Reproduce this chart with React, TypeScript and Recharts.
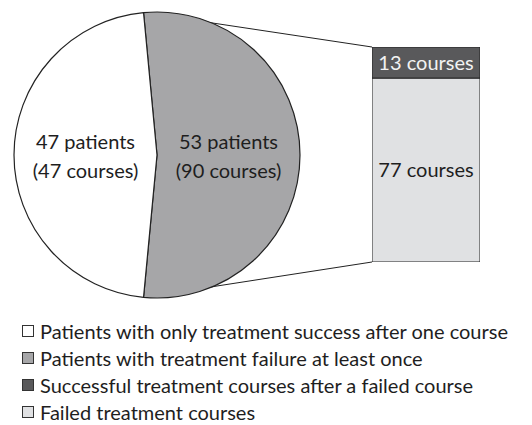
import React from 'react';
import { PieChart, Pie, Cell, BarChart, Bar, XAxis, YAxis, LabelList } from 'recharts';

// patients split (pie) and the failed-patient courses split (bar)
const pieNames = ['Patients with treatment failure at least once', 'Patients with only treatment success after one course'];
const piePatients = [53, 47];
const pieCourses = [90, 47];
const barNames = ['Failed treatment courses', 'Successful treatment courses after a failed course'];
const barCourses = [77, 13];

const PIE_COLORS = ['#a6a6a8', '#ffffff'];
const BAR_COLORS = ['#e0e1e3', '#59595b'];
const FONT = 'Lato, "Open Sans", sans-serif';

const pieData = pieNames.map((name, i) => ({ name, value: piePatients[i], courses: pieCourses[i] }));
const barData = [{ name: 'courses', failed: barCourses[0], success: barCourses[1] }];

const legendItems = [
  { label: pieNames[1], color: PIE_COLORS[1] },
  { label: pieNames[0], color: PIE_COLORS[0] },
  { label: barNames[1], color: BAR_COLORS[1] },
  { label: barNames[0], color: BAR_COLORS[0] },
];

// layout
const CX = 157;
const CY = 155;
const R = 143;
const START = 95.4;
const BAR_X = 372;
const BAR_Y = 47;
const BAR_W = 108;
const BAR_H = 215;

const renderPieLabel = (props: any) => {
  const { cx, cy, midAngle, outerRadius, payload } = props;
  const rad = (Math.PI / 180) * midAngle;
  const x = cx + outerRadius * 0.5 * Math.cos(rad);
  const y = cy - outerRadius * 0.5 * Math.sin(rad);
  return (
    <text x={x} y={y} textAnchor="middle" fill="#1e1e1e" fontSize={20} fontFamily={FONT}>
      <tspan x={x} dy={-6}>{`${payload.value} patients`}</tspan>
      <tspan x={x} dy={29}>{`(${payload.courses} courses)`}</tspan>
    </text>
  );
};

export default function App() {
  const total = piePatients.reduce((a, b) => a + b, 0);
  const endAngle = START - (360 * piePatients[0]) / total;
  const toPt = (deg: number) => {
    const r = (Math.PI / 180) * deg;
    return [CX + R * Math.cos(r), CY - R * Math.sin(r)];
  };
  const [tx, ty] = toPt(START);
  const [bx, by] = toPt(endAngle);

  return (
    <div style={{ position: 'absolute', left: 0, top: 0, width: 532, height: 425, background: '#fff', fontFamily: FONT }}>
      <svg width={532} height={310} style={{ position: 'absolute', left: 0, top: 0 }}>
        <line x1={tx} y1={ty} x2={BAR_X} y2={BAR_Y} stroke="#222" strokeWidth={1} />
        <line x1={bx} y1={by} x2={BAR_X} y2={BAR_Y + BAR_H} stroke="#222" strokeWidth={1} />
      </svg>
      <div style={{ position: 'absolute', left: 0, top: 0 }}>
        <PieChart width={320} height={310} margin={{ top: 0, right: 0, bottom: 0, left: 0 }}>
          <Pie
            data={pieData}
            dataKey="value"
            cx={CX}
            cy={CY}
            outerRadius={R}
            startAngle={START}
            endAngle={START - 360}
            stroke="#222"
            strokeWidth={1.2}
            label={renderPieLabel}
            labelLine={false}
            isAnimationActive={false}
          >
            {pieData.map((d, i) => (
              <Cell key={d.name} fill={PIE_COLORS[i]} />
            ))}
          </Pie>
        </PieChart>
      </div>
      <div style={{ position: 'absolute', left: BAR_X, top: BAR_Y }}>
        <BarChart width={BAR_W} height={BAR_H} data={barData} margin={{ top: 0, right: 0, bottom: 0, left: 0 }} barCategoryGap={0}>
          <XAxis dataKey="name" hide />
          <YAxis hide domain={[0, barCourses[0] + barCourses[1]]} />
          <Bar dataKey="failed" stackId="a" fill={BAR_COLORS[0]} stroke="#222" strokeWidth={1} isAnimationActive={false}>
            <LabelList dataKey="failed" position="center" formatter={(v: any) => `${v} courses`} fill="#1e1e1e" fontSize={20} fontFamily={FONT} />
          </Bar>
          <Bar dataKey="success" stackId="a" fill={BAR_COLORS[1]} stroke="#222" strokeWidth={1} isAnimationActive={false}>
            <LabelList dataKey="success" position="center" formatter={(v: any) => `${v} courses`} fill="#f2f2f2" fontSize={20} fontFamily={FONT} />
          </Bar>
        </BarChart>
      </div>
      <div style={{ position: 'absolute', left: 22, top: 322, display: 'flex', flexDirection: 'column', gap: 9 }}>
        {legendItems.map((it) => (
          <div key={it.label} style={{ display: 'flex', alignItems: 'center', height: 18, lineHeight: '18px', fontSize: 20, color: '#1e1e1e', whiteSpace: 'nowrap' }}>
            <span style={{ width: 10, height: 10, border: '1px solid #333', background: it.color, marginRight: 6, display: 'inline-block', flexShrink: 0 }} />
            <span>{it.label}</span>
          </div>
        ))}
      </div>
    </div>
  );
}
